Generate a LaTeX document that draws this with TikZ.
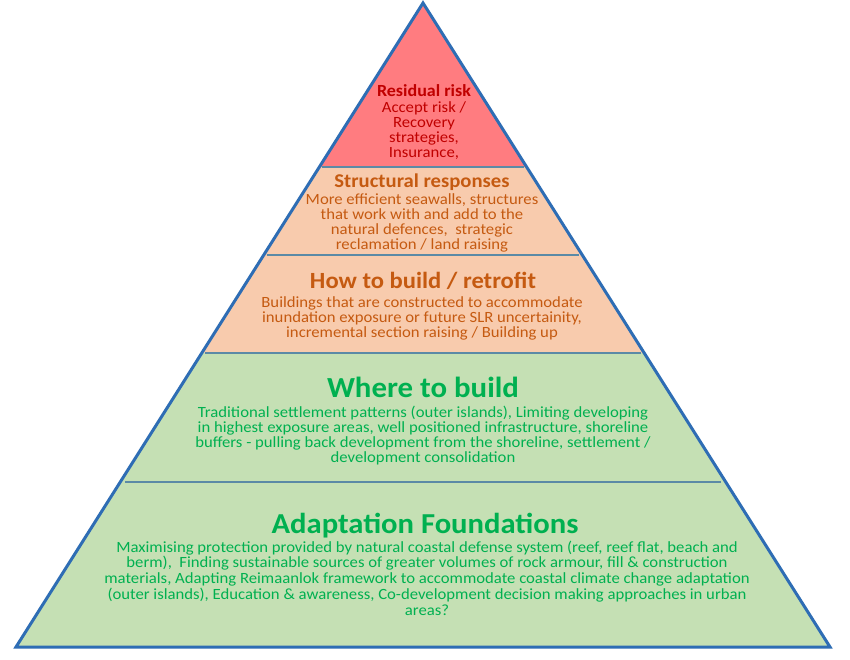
\documentclass[tikz,border=0pt]{standalone}
\usepackage{fontspec}
\setmainfont{Carlito}
\newfontfamily\bodyfont[FakeStretch=1.07]{Carlito}
\newfontfamily\headfont[FakeStretch=1.06]{Carlito}
\usetikzlibrary{calc}
\definecolor{outl}{HTML}{2E6DB4}
\definecolor{sepl}{HTML}{5B8AA6}
\definecolor{redf}{HTML}{FF7C80}
\definecolor{peach}{HTML}{F8CBAD}
\definecolor{greenf}{HTML}{C5E0B4}
\definecolor{redt}{HTML}{C00000}
\definecolor{orat}{HTML}{C55A11}
\definecolor{grnt}{HTML}{00B050}
\begin{document}
\begin{tikzpicture}[x=1pt,y=-1pt,
  ttl/.style={inner sep=0pt, anchor=base},
  bdy/.style={inner sep=0pt, anchor=base, align=center},
  sepline/.style={draw=sepl, line width=1.5pt}]
\useasboundingbox (0,0) rectangle (850,660);
\fill[white] (0,0) rectangle (850,660);
\coordinate (A) at (423,3);
\coordinate (BL) at (16,647);
\coordinate (BR) at (830,647);
\coordinate (L1) at ($(A)!0.2547!(BL)$);
\coordinate (R1) at ($(A)!0.2547!(BR)$);
\coordinate (L2) at ($(A)!0.3913!(BL)$);
\coordinate (R2) at ($(A)!0.3913!(BR)$);
\coordinate (L3) at ($(A)!0.5435!(BL)$);
\coordinate (R3) at ($(A)!0.5435!(BR)$);
\coordinate (L4) at ($(A)!0.7438!(BL)$);
\coordinate (R4) at ($(A)!0.7438!(BR)$);
\fill[redf] (A) -- (L1) -- (R1) -- cycle;
\fill[peach] (L1) -- (L3) -- (R3) -- (R1) -- cycle;
\fill[greenf] (L3) -- (BL) -- (BR) -- (R3) -- cycle;
\draw[sepline] ($(L1)+(3,0)$) -- ($(R1)+(-3,0)$);
\draw[sepline] ($(L2)+(3,0)$) -- ($(R2)+(-3,0)$);
\draw[sepline] ($(L3)+(3,0)$) -- ($(R3)+(-3,0)$);
\draw[sepline] ($(L4)+(5,0)$) -- ($(R4)+(-5,0)$);
\draw[outl, line width=3pt, line join=miter] (A) -- (BL) -- (BR) -- cycle;
% Residual risk
\node[ttl, text=redt, font=\headfont\bfseries\fontsize{17}{19}\selectfont] (t1) at (424,97) {Residual risk};
\node[bdy, text=redt, font=\bodyfont\fontsize{15.6}{15}\selectfont] (b1) at (424,158) {Accept risk /\\Recovery\\strategies,\\Insurance,};
% Structural
\node[ttl, text=orat, font=\headfont\bfseries\fontsize{19.5}{21}\selectfont] (t2) at (422,188) {Structural responses};
\node[bdy, text=orat, font=\bodyfont\fontsize{15.6}{14.7}\selectfont] (b2) at (422,249) {More efficient seawalls, structures\\that work with and add to the\\natural defences,~ strategic\\reclamation / land raising};
% How to build
\node[ttl, text=orat, font=\headfont\bfseries\fontsize{23.2}{25}\selectfont] (t3) at (423,288) {How to build / retrofit};
\node[bdy, text=orat, font=\bodyfont\fontsize{15.6}{15}\selectfont] (b3) at (422,337) {Buildings that are constructed to accommodate\\inundation exposure or future SLR uncertainity,\\incremental section raising / Building up};
% Where to build
\node[ttl, text=grnt, font=\headfont\bfseries\fontsize{29.1}{31}\selectfont] (t4) at (423,397) {Where to build};
\node[bdy, text=grnt, font=\bodyfont\fontsize{15.6}{15}\selectfont] (b4) at (423,462) {Traditional settlement patterns (outer islands), Limiting developing\\in highest exposure areas, well positioned infrastructure, shoreline\\buffers - pulling back development from the shoreline, settlement /\\development consolidation};
% Adaptation
\node[ttl, text=grnt, font=\headfont\bfseries\fontsize{28.9}{31}\selectfont] (t5) at (425,533) {Adaptation Foundations};
\node[bdy, text=grnt, font=\bodyfont\fontsize{15.6}{15.75}\selectfont] (b5) at (427,615) {Maximising protection provided by natural coastal defense system (reef, reef flat, beach and\\berm),~ Finding sustainable sources of greater volumes of rock armour, fill \& construction\\materials, Adapting Reimaanlok framework to accommodate coastal climate change adaptation\\(outer islands), Education \& awareness, Co-development decision making approaches in urban\\areas?};
\end{tikzpicture}
\end{document}
